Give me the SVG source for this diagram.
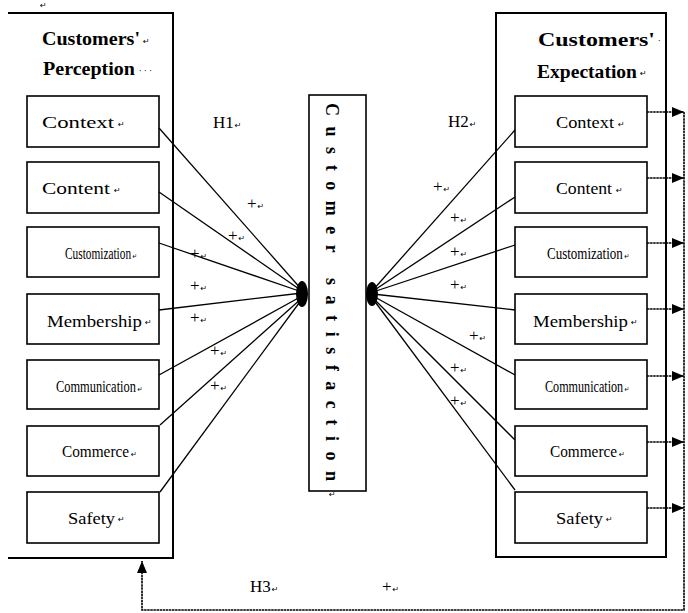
<svg xmlns="http://www.w3.org/2000/svg" width="688" height="613" viewBox="0 0 688 613">
<style>
.frame{fill:none;stroke:#000;stroke-width:2}
.box{fill:#fff;stroke:#000;stroke-width:1.6}
.ln{stroke:#000;stroke-width:1.3;fill:none}
.dot{stroke:#000;stroke-width:1.6;fill:none;stroke-dasharray:2.5 0.6}
.lbl{font-family:"Liberation Serif","Times New Roman",serif;font-size:17px;fill:#000}
.ttl{font-family:"Liberation Serif","Times New Roman",serif;font-size:18px;font-weight:bold;fill:#000}
.mk{font-family:"DejaVu Sans",sans-serif;font-size:8px;fill:#000}
.ctr{font-family:"Liberation Serif","Times New Roman",serif;font-size:18px;font-weight:bold;fill:#000}
</style>
<defs>
<marker id="ah" viewBox="0 0 12 10" refX="12" refY="5" markerWidth="12" markerHeight="10" markerUnits="userSpaceOnUse" orient="auto">
<path d="M0,0 L12,5 L0,10 z" fill="#000"/>
</marker>
</defs>
<rect width="688" height="613" fill="#fff"/>

<text class="mk" x="40" y="8">↵</text>

<g id="perception">
<path class="frame" d="M8,13 H173 V558 H8"/>
<text class="ttl" x="42" y="45" textLength="98" lengthAdjust="spacingAndGlyphs">Customers'</text><text class="mk" x="143" y="44">↵</text>
<text class="ttl" x="43" y="75" textLength="92" lengthAdjust="spacingAndGlyphs">Perception</text><text class="mk" x="139" y="74">·  ·  ·</text>
</g>

<g id="p-context"><rect class="box" x="27" y="96" width="132" height="51"/><text class="lbl" x="42" y="128" textLength="72" lengthAdjust="spacingAndGlyphs">Context</text><text class="mk" x="118" y="127">↵</text></g>
<g id="p-content"><rect class="box" x="27" y="162" width="132" height="51"/><text class="lbl" x="42" y="194" textLength="68" lengthAdjust="spacingAndGlyphs">Content</text><text class="mk" x="114" y="193">↵</text></g>
<g id="p-customization"><rect class="box" x="27" y="227" width="132" height="50"/><text class="lbl" font-size="16" transform="translate(65,259) scale(0.667,1)">Customization<tspan class="mk" dx="2">↵</tspan></text></g>
<g id="p-membership"><rect class="box" x="27" y="294" width="132" height="50"/><text class="lbl" x="47" y="327" font-size="18" textLength="95" lengthAdjust="spacingAndGlyphs">Membership</text><text class="mk" x="145" y="325">↵</text></g>
<g id="p-communication"><rect class="box" x="27" y="360" width="132" height="49"/><text class="lbl" font-size="16" transform="translate(56,392) scale(0.73,1)">Communication<tspan class="mk" dx="2">↵</tspan></text></g>
<g id="p-commerce"><rect class="box" x="27" y="426" width="132" height="50"/><text class="lbl" font-size="16" transform="translate(62,457) scale(0.9,1)">Commerce<tspan class="mk" dx="2">↵</tspan></text></g>
<g id="p-safety"><rect class="box" x="27" y="492" width="132" height="51"/><text class="lbl" x="68" y="524" font-size="18" textLength="47" lengthAdjust="spacingAndGlyphs">Safety</text><text class="mk" x="118" y="522">↵</text></g>

<g id="expectation">
<rect class="frame" x="496" y="13" width="170" height="544"/>
<text class="ttl" x="538" y="46" textLength="117" lengthAdjust="spacingAndGlyphs">Customers'</text><text class="mk" x="658" y="44">·</text>
<text class="ttl" x="537" y="78" textLength="100" lengthAdjust="spacingAndGlyphs">Expectation</text><text class="mk" x="640" y="76">↵</text>
</g>

<g id="e-context"><rect class="box" x="515" y="96" width="132" height="51"/><text class="lbl" x="556" y="128" textLength="58" lengthAdjust="spacingAndGlyphs">Context</text><text class="mk" x="618" y="127">↵</text></g>
<g id="e-content"><rect class="box" x="515" y="162" width="132" height="51"/><text class="lbl" x="556" y="194" textLength="56" lengthAdjust="spacingAndGlyphs">Content</text><text class="mk" x="616" y="193">↵</text></g>
<g id="e-customization"><rect class="box" x="515" y="227" width="132" height="50"/><text class="lbl" font-size="16" transform="translate(547,259) scale(0.765,1)">Customization<tspan class="mk" dx="2">↵</tspan></text></g>
<g id="e-membership"><rect class="box" x="515" y="294" width="132" height="50"/><text class="lbl" x="533" y="327" font-size="18" textLength="95" lengthAdjust="spacingAndGlyphs">Membership</text><text class="mk" x="631" y="325">↵</text></g>
<g id="e-communication"><rect class="box" x="515" y="360" width="132" height="49"/><text class="lbl" font-size="16" transform="translate(545,392) scale(0.714,1)">Communication<tspan class="mk" dx="2">↵</tspan></text></g>
<g id="e-commerce"><rect class="box" x="515" y="426" width="132" height="50"/><text class="lbl" font-size="16" transform="translate(550,457) scale(0.9,1)">Commerce<tspan class="mk" dx="2">↵</tspan></text></g>
<g id="e-safety"><rect class="box" x="515" y="492" width="132" height="51"/><text class="lbl" x="556" y="524" font-size="18" textLength="47" lengthAdjust="spacingAndGlyphs">Safety</text><text class="mk" x="606" y="522">↵</text></g>

<g id="satisfaction">
<rect class="box" x="309" y="95" width="57" height="396" stroke-width="1.8"/>
<text class="ctr" transform="translate(326,103) rotate(90)" x="0" y="0" textLength="378" lengthAdjust="spacing">Customer satisfaction</text>
<text class="mk" x="329" y="497">↵</text>
</g>

<g id="connectors">
<ellipse cx="302" cy="294" rx="6" ry="13" fill="#000"/>
<ellipse cx="372" cy="294" rx="6" ry="12" fill="#000"/>
<line class="ln" x1="159" y1="128" x2="302" y2="290"/>
<line class="ln" x1="159" y1="192" x2="302" y2="291"/>
<line class="ln" x1="159" y1="243" x2="302" y2="292"/>
<line class="ln" x1="159" y1="310" x2="302" y2="293"/>
<line class="ln" x1="159" y1="375" x2="302" y2="296"/>
<line class="ln" x1="160" y1="425" x2="302" y2="298"/>
<line class="ln" x1="160" y1="492" x2="302" y2="299"/>
<line class="ln" x1="373" y1="290" x2="515" y2="130"/>
<line class="ln" x1="373" y1="291" x2="515" y2="197"/>
<line class="ln" x1="373" y1="292" x2="515" y2="245"/>
<line class="ln" x1="373" y1="294" x2="515" y2="310"/>
<line class="ln" x1="373" y1="296" x2="515" y2="375"/>
<line class="ln" x1="373" y1="298" x2="515" y2="440"/>
<line class="ln" x1="373" y1="299" x2="515" y2="490"/>
<line class="dot" x1="647" y1="112" x2="684" y2="112" marker-end="url(#ah)"/>
<line class="dot" x1="647" y1="178" x2="684" y2="178" marker-end="url(#ah)"/>
<line class="dot" x1="647" y1="243" x2="684" y2="243" marker-end="url(#ah)"/>
<line class="dot" x1="647" y1="309" x2="684" y2="309" marker-end="url(#ah)"/>
<line class="dot" x1="647" y1="376" x2="684" y2="376" marker-end="url(#ah)"/>
<line class="dot" x1="647" y1="442" x2="684" y2="442" marker-end="url(#ah)"/>
<line class="dot" x1="647" y1="508" x2="684" y2="508" marker-end="url(#ah)"/>
<path class="dot" d="M684,112 V610 H142 V561" marker-end="url(#ah)"/>
</g>

<g id="labels">
<text class="lbl" x="213" y="128">H1<tspan class="mk" dx="1">↵</tspan></text>
<text class="lbl" x="448" y="127">H2<tspan class="mk" dx="1">↵</tspan></text>
<text class="lbl" x="250" y="592">H3<tspan class="mk" dx="1">↵</tspan></text>
<text class="lbl" x="382" y="592">+<tspan class="mk" dx="1">↵</tspan></text>
<text class="lbl" x="247" y="209">+<tspan class="mk" dx="1">↵</tspan></text>
<text class="lbl" x="228" y="241">+<tspan class="mk" dx="1">↵</tspan></text>
<text class="lbl" x="190" y="259">+<tspan class="mk" dx="1">↵</tspan></text>
<text class="lbl" x="190" y="291">+<tspan class="mk" dx="1">↵</tspan></text>
<text class="lbl" x="190" y="323">+<tspan class="mk" dx="1">↵</tspan></text>
<text class="lbl" x="210" y="356">+<tspan class="mk" dx="1">↵</tspan></text>
<text class="lbl" x="210" y="391">+<tspan class="mk" dx="1">↵</tspan></text>
<text class="lbl" x="433" y="192">+<tspan class="mk" dx="1">↵</tspan></text>
<text class="lbl" x="450" y="223">+<tspan class="mk" dx="1">↵</tspan></text>
<text class="lbl" x="450" y="257">+<tspan class="mk" dx="1">↵</tspan></text>
<text class="lbl" x="450" y="290">+<tspan class="mk" dx="1">↵</tspan></text>
<text class="lbl" x="469" y="341">+<tspan class="mk" dx="1">↵</tspan></text>
<text class="lbl" x="450" y="373">+<tspan class="mk" dx="1">↵</tspan></text>
<text class="lbl" x="450" y="406">+<tspan class="mk" dx="1">↵</tspan></text>
</g>
</svg>
